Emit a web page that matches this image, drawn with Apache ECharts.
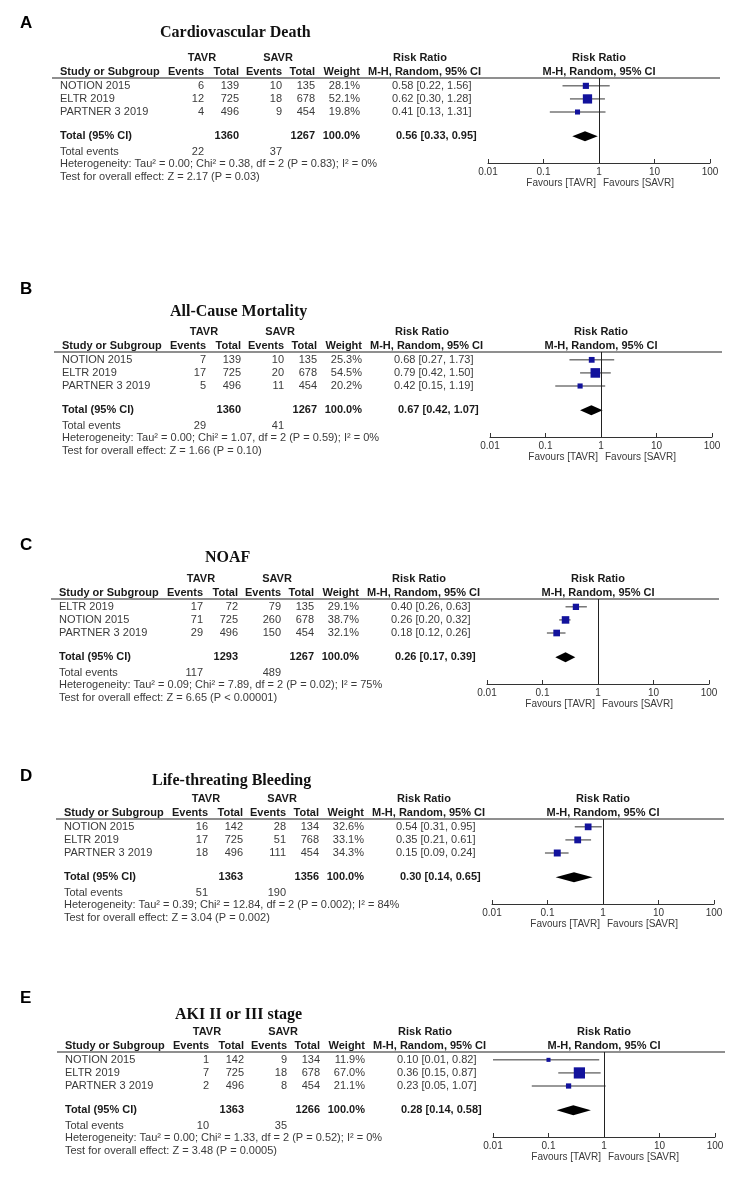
<!DOCTYPE html>
<html><head><meta charset="utf-8">
<script src="https://cdn.jsdelivr.net/npm/echarts@6/dist/echarts.min.js"></script>
<style>html,body{margin:0;padding:0;background:#fff}#c{width:744px;height:1178px}</style>
</head><body><div id="c"></div>
<script>
// ---------------- DATA ----------------
const panelLetters = ['A', 'B', 'C', 'D', 'E'];
const panelTitles = ['Cardiovascular Death', 'All-Cause Mortality', 'NOAF', 'Life-threating Bleeding', 'AKI II or III stage'];
const tickLabels = ['0.01', '0.1', '1', '10', '100'];

const studiesA = ['NOTION 2015', 'ELTR 2019', 'PARTNER 3 2019'];
const tavrEventsA = [6, 12, 4];
const tavrTotalA = [139, 725, 496];
const savrEventsA = [10, 18, 9];
const savrTotalA = [135, 678, 454];
const weightA = [28.1, 52.1, 19.8];
const rrA = [0.58, 0.62, 0.41];
const rrLowA = [0.22, 0.30, 0.13];
const rrHighA = [1.56, 1.28, 1.31];
const pooledA = [0.56, 0.33, 0.95];
const totalsA = [1360, 1267];
const totalEventsA = [22, 37];
const hetA = 'Heterogeneity: Tau² = 0.00; Chi² = 0.38, df = 2 (P = 0.83); I² = 0%';
const testA = 'Test for overall effect: Z = 2.17 (P = 0.03)';

const studiesB = ['NOTION 2015', 'ELTR 2019', 'PARTNER 3 2019'];
const tavrEventsB = [7, 17, 5];
const tavrTotalB = [139, 725, 496];
const savrEventsB = [10, 20, 11];
const savrTotalB = [135, 678, 454];
const weightB = [25.3, 54.5, 20.2];
const rrB = [0.68, 0.79, 0.42];
const rrLowB = [0.27, 0.42, 0.15];
const rrHighB = [1.73, 1.50, 1.19];
const pooledB = [0.67, 0.42, 1.07];
const totalsB = [1360, 1267];
const totalEventsB = [29, 41];
const hetB = 'Heterogeneity: Tau² = 0.00; Chi² = 1.07, df = 2 (P = 0.59); I² = 0%';
const testB = 'Test for overall effect: Z = 1.66 (P = 0.10)';

const studiesC = ['ELTR 2019', 'NOTION 2015', 'PARTNER 3 2019'];
const tavrEventsC = [17, 71, 29];
const tavrTotalC = [72, 725, 496];
const savrEventsC = [79, 260, 150];
const savrTotalC = [135, 678, 454];
const weightC = [29.1, 38.7, 32.1];
const rrC = [0.40, 0.26, 0.18];
const rrLowC = [0.26, 0.20, 0.12];
const rrHighC = [0.63, 0.32, 0.26];
const pooledC = [0.26, 0.17, 0.39];
const totalsC = [1293, 1267];
const totalEventsC = [117, 489];
const hetC = 'Heterogeneity: Tau² = 0.09; Chi² = 7.89, df = 2 (P = 0.02); I² = 75%';
const testC = 'Test for overall effect: Z = 6.65 (P < 0.00001)';

const studiesD = ['NOTION 2015', 'ELTR 2019', 'PARTNER 3 2019'];
const tavrEventsD = [16, 17, 18];
const tavrTotalD = [142, 725, 496];
const savrEventsD = [28, 51, 111];
const savrTotalD = [134, 768, 454];
const weightD = [32.6, 33.1, 34.3];
const rrD = [0.54, 0.35, 0.15];
const rrLowD = [0.31, 0.21, 0.09];
const rrHighD = [0.95, 0.61, 0.24];
const pooledD = [0.30, 0.14, 0.65];
const totalsD = [1363, 1356];
const totalEventsD = [51, 190];
const hetD = 'Heterogeneity: Tau² = 0.39; Chi² = 12.84, df = 2 (P = 0.002); I² = 84%';
const testD = 'Test for overall effect: Z = 3.04 (P = 0.002)';

const studiesE = ['NOTION 2015', 'ELTR 2019', 'PARTNER 3 2019'];
const tavrEventsE = [1, 7, 2];
const tavrTotalE = [142, 725, 496];
const savrEventsE = [9, 18, 8];
const savrTotalE = [134, 678, 454];
const weightE = [11.9, 67.0, 21.1];
const rrE = [0.10, 0.36, 0.23];
const rrLowE = [0.01, 0.15, 0.05];
const rrHighE = [0.82, 0.87, 1.07];
const pooledE = [0.28, 0.14, 0.58];
const totalsE = [1363, 1266];
const totalEventsE = [10, 35];
const hetE = 'Heterogeneity: Tau² = 0.00; Chi² = 1.33, df = 2 (P = 0.52); I² = 0%';
const testE = 'Test for overall effect: Z = 3.48 (P = 0.0005)';

const panels = [
  {studies: studiesA, te: tavrEventsA, tt: tavrTotalA, se: savrEventsA, st: savrTotalA, w: weightA, rr: rrA, lo: rrLowA, hi: rrHighA, pooled: pooledA, totals: totalsA, tev: totalEventsA, het: hetA, test: testA},
  {studies: studiesB, te: tavrEventsB, tt: tavrTotalB, se: savrEventsB, st: savrTotalB, w: weightB, rr: rrB, lo: rrLowB, hi: rrHighB, pooled: pooledB, totals: totalsB, tev: totalEventsB, het: hetB, test: testB},
  {studies: studiesC, te: tavrEventsC, tt: tavrTotalC, se: savrEventsC, st: savrTotalC, w: weightC, rr: rrC, lo: rrLowC, hi: rrHighC, pooled: pooledC, totals: totalsC, tev: totalEventsC, het: hetC, test: testC},
  {studies: studiesD, te: tavrEventsD, tt: tavrTotalD, se: savrEventsD, st: savrTotalD, w: weightD, rr: rrD, lo: rrLowD, hi: rrHighD, pooled: pooledD, totals: totalsD, tev: totalEventsD, het: hetD, test: testD},
  {studies: studiesE, te: tavrEventsE, tt: tavrTotalE, se: savrEventsE, st: savrTotalE, w: weightE, rr: rrE, lo: rrLowE, hi: rrHighE, pooled: pooledE, totals: totalsE, tev: totalEventsE, het: hetE, test: testE}
];

// ---------------- LAYOUT ----------------
const ruleY = [78, 352, 599, 819, 1052];
const dxs = [0, 2, -1, 4, 5];
const titleY = [33, 312, 558, 781, 1015];
const titleX = [160, 170, 205, 152, 175];
const labelY = [23, 289, 545, 776, 998];
const Y_MIN = 0.4, Y_MAX = 6.9, PLOT_H = 85, PLOT_W = 222;
const TOTAL_ROW = 4.85;
const rowPix = (L, v) => L + (v - Y_MIN) * PLOT_H / (Y_MAX - Y_MIN);

const F_REG = '11px "Liberation Sans", Arial, sans-serif';
const F_BOLD = 'bold 11px "Liberation Sans", Arial, sans-serif';
const C_REG = '#3a3a3a', C_BOLD = '#1a1a1a';

function T(x, y, s, font, align, fill) {
  return {type: 'text', x: x, y: y, silent: true,
    style: {text: String(s), font: font, fill: fill || (font === F_REG ? C_REG : C_BOLD), align: align || 'left', verticalAlign: 'middle'}};
}

const graphics = [];
const grids = [], xAxes = [], yAxes = [], series = [];

panels.forEach((p, i) => {
  const L = ruleY[i], dx = dxs[i];
  const gl = 488 + dx;
  graphics.push(T(20, labelY[i], panelLetters[i], 'bold 17px "Liberation Sans", Arial, sans-serif', 'left', '#000'));
  graphics.push(T(titleX[i], titleY[i], panelTitles[i], 'bold 16px "Liberation Serif", "Times New Roman", serif', 'left', '#111'));
  const h1 = L - 20, h2 = L - 6;
  graphics.push(T(202 + dx, h1, 'TAVR', F_BOLD, 'center'));
  graphics.push(T(278 + dx, h1, 'SAVR', F_BOLD, 'center'));
  graphics.push(T(420 + dx, h1, 'Risk Ratio', F_BOLD, 'center'));
  graphics.push(T(gl + PLOT_W / 2, h1, 'Risk Ratio', F_BOLD, 'center'));
  graphics.push(T(60 + dx, h2, 'Study or Subgroup', F_BOLD, 'left'));
  graphics.push(T(204 + dx, h2, 'Events', F_BOLD, 'right'));
  graphics.push(T(239 + dx, h2, 'Total', F_BOLD, 'right'));
  graphics.push(T(282 + dx, h2, 'Events', F_BOLD, 'right'));
  graphics.push(T(315 + dx, h2, 'Total', F_BOLD, 'right'));
  graphics.push(T(360 + dx, h2, 'Weight', F_BOLD, 'right'));
  graphics.push(T(368 + dx, h2, 'M-H, Random, 95% CI', F_BOLD, 'left'));
  graphics.push(T(gl + PLOT_W / 2, h2, 'M-H, Random, 95% CI', F_BOLD, 'center'));
  graphics.push({type: 'line', silent: true, shape: {x1: 52 + dx, y1: L, x2: 720 + dx, y2: L}, style: {stroke: '#6a6a6a', lineWidth: 1.6}});
  p.studies.forEach((s, k) => {
    const y = rowPix(L, k + 1);
    graphics.push(T(60 + dx, y, s, F_REG, 'left'));
    graphics.push(T(204 + dx, y, p.te[k], F_REG, 'right'));
    graphics.push(T(239 + dx, y, p.tt[k], F_REG, 'right'));
    graphics.push(T(282 + dx, y, p.se[k], F_REG, 'right'));
    graphics.push(T(315 + dx, y, p.st[k], F_REG, 'right'));
    graphics.push(T(360 + dx, y, p.w[k].toFixed(1) + '%', F_REG, 'right'));
    graphics.push(T(392 + dx, y, p.rr[k].toFixed(2) + ' [' + p.lo[k].toFixed(2) + ', ' + p.hi[k].toFixed(2) + ']', F_REG, 'left'));
  });
  const yt = rowPix(L, TOTAL_ROW);
  graphics.push(T(60 + dx, yt, 'Total (95% CI)', F_BOLD, 'left'));
  graphics.push(T(239 + dx, yt, p.totals[0], F_BOLD, 'right'));
  graphics.push(T(315 + dx, yt, p.totals[1], F_BOLD, 'right'));
  graphics.push(T(360 + dx, yt, '100.0%', F_BOLD, 'right'));
  graphics.push(T(396 + dx, yt, p.pooled[0].toFixed(2) + ' [' + p.pooled[1].toFixed(2) + ', ' + p.pooled[2].toFixed(2) + ']', F_BOLD, 'left'));
  graphics.push(T(60 + dx, L + 74, 'Total events', F_REG, 'left'));
  graphics.push(T(204 + dx, L + 74, p.tev[0], F_REG, 'right'));
  graphics.push(T(282 + dx, L + 74, p.tev[1], F_REG, 'right'));
  graphics.push(T(60 + dx, L + 86, p.het, F_REG, 'left'));
  graphics.push(T(60 + dx, L + 99, p.test, F_REG, 'left'));
  graphics.push(T(gl + PLOT_W / 2 - 3, L + 105, 'Favours [TAVR]', '10px "Liberation Sans", Arial, sans-serif', 'right', C_REG));
  graphics.push(T(gl + PLOT_W / 2 + 4, L + 105, 'Favours [SAVR]', '10px "Liberation Sans", Arial, sans-serif', 'left', C_REG));

  grids.push({left: gl, top: L, width: PLOT_W, height: PLOT_H});
  xAxes.push({
    gridIndex: i, type: 'log', logBase: 10, min: 0.01, max: 100, position: 'bottom',
    axisLine: {show: true, lineStyle: {color: '#333', width: 1}},
    axisTick: {show: true, inside: true, length: 4, lineStyle: {color: '#333'}},
    minorTick: {show: false}, splitLine: {show: false},
    axisLabel: {margin: 4, fontSize: 10, color: '#333', fontFamily: '"Liberation Sans", Arial, sans-serif',
      formatter: v => tickLabels[Math.round(Math.log10(v)) + 2]}
  });
  yAxes.push({gridIndex: i, type: 'value', min: Y_MIN, max: Y_MAX, inverse: true, show: false});

  const studyData = p.rr.map((r, k) => [r, k + 1, p.lo[k], p.hi[k], p.w[k]]);
  series.push({
    type: 'custom', xAxisIndex: i, yAxisIndex: i, data: studyData, clip: false, silent: true,
    renderItem: function (params, api) {
      const y = api.value(1);
      const c = api.coord([api.value(0), y]);
      const l = api.coord([api.value(2), y]);
      const h = api.coord([api.value(3), y]);
      const s = 2.5 + api.value(4) * 0.13;
      return {type: 'group', children: [
        {type: 'line', shape: {x1: l[0], y1: l[1], x2: h[0], y2: h[1]}, style: {stroke: '#333', lineWidth: 1}},
        {type: 'rect', shape: {x: c[0] - s / 2, y: c[1] - s / 2, width: s, height: s}, style: {fill: '#12129c'}}
      ]};
    },
    markLine: {silent: true, symbol: 'none', label: {show: false}, lineStyle: {color: '#222', width: 1, type: 'solid'},
      data: [{xAxis: 1}]}
  });
  series.push({
    type: 'custom', xAxisIndex: i, yAxisIndex: i, data: [[p.pooled[0], TOTAL_ROW, p.pooled[1], p.pooled[2]]], silent: true,
    renderItem: function (params, api) {
      const y = api.value(1);
      const c = api.coord([api.value(0), y]);
      const l = api.coord([api.value(2), y]);
      const h = api.coord([api.value(3), y]);
      const hh = 5;
      return {type: 'polygon', shape: {points: [[l[0], l[1]], [c[0], c[1] - hh], [h[0], h[1]], [c[0], c[1] + hh]]}, style: {fill: '#000'}};
    }
  });
});

const chart = echarts.init(document.getElementById('c'), null, {renderer: 'canvas'});
chart.setOption({
  backgroundColor: '#fff',
  animation: false,
  grid: grids, xAxis: xAxes, yAxis: yAxes, series: series,
  graphic: graphics
});
</script>
</body></html>
